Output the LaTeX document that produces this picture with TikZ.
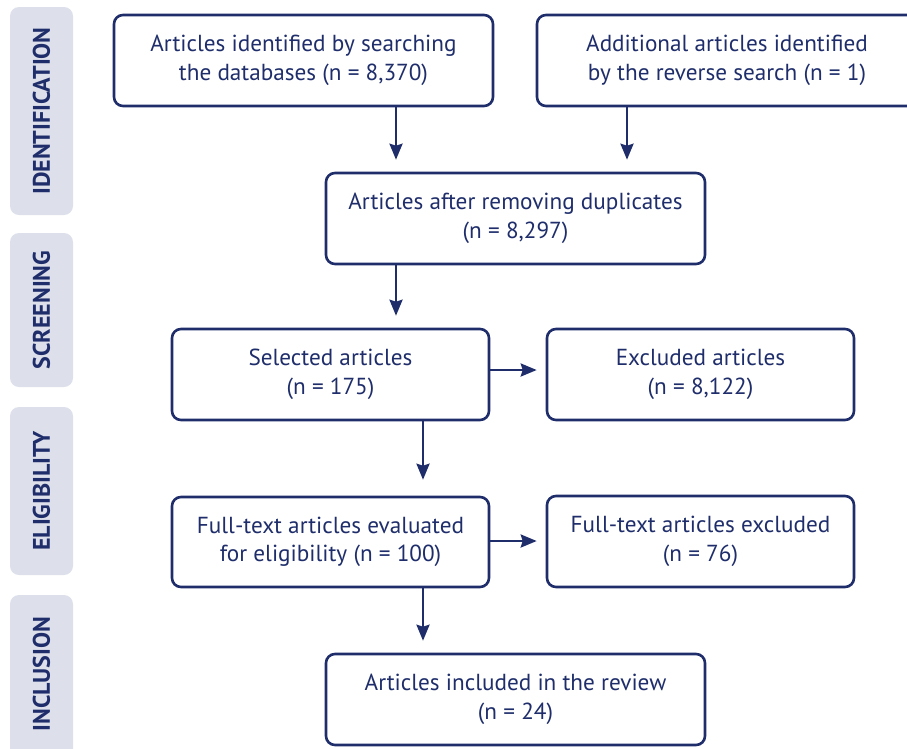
\documentclass[tikz,border=0pt]{standalone}
\usepackage{fontspec}
\setmainfont{PT Sans}
\usetikzlibrary{arrows.meta}
\definecolor{navy}{HTML}{1F2E6B}
\definecolor{sidefill}{HTML}{DDE0EA}
\begin{document}
\begin{tikzpicture}[x=1pt,y=-1pt,
  box/.style={draw=navy, line width=2.6pt, rounded corners=9pt, fill=white,
    text=navy, align=center, inner sep=0pt,
    font=\fontsize{23.2}{28.5}\selectfont},
  side/.style={fill=sidefill, rounded corners=9pt, text=navy, rotate=90,
    minimum height=63pt, inner sep=0pt,
    font=\fontsize{24}{26}\selectfont\bfseries},
  sidelabel/.style={text=navy, rotate=90, inner sep=0pt,
    font=\fontsize{24}{26}\selectfont\bfseries},
  arr/.style={draw=navy, line width=2.6pt,
    -{Stealth[inset=2pt,length=16pt,width=13pt]}, shorten >=12pt}]
\useasboundingbox (0,0) rectangle (907,748);
% sidebars
\node[side, minimum width=208pt] (s1) at (41.5,111) {IDENTIFICATION};
\node[side, minimum width=154pt] (s2) at (41.5,310) {SCREENING};
\node[side, minimum width=168pt] (s3) at (41.5,491) {ELIGIBILITY};
\node[side, minimum width=180pt] (s4) at (41.5,685) {};
\node[sidelabel] (s4t) at (41.5,674) {INCLUSION};
% boxes
\node[box, minimum width=379pt, minimum height=91pt] (b1) at (303.5,60.5)
  {Articles identified by searching\\the databases (n = 8,370)};
\node[box, minimum width=380pt, minimum height=91pt] (b2) at (727,60.5)
  {Additional articles identified\\by the reverse search (n = 1)};
\node[box, minimum width=379pt, minimum height=91pt] (b3) at (515.5,218.5)
  {Articles after removing duplicates\\(n = 8,297)};
\node[box, minimum width=317pt, minimum height=91pt] (sel) at (330.5,374.5)
  {Selected articles\\(n = 175)};
\node[box, minimum width=307pt, minimum height=91pt] (exc) at (700.5,374.5)
  {Excluded articles\\(n = 8,122)};
\node[box, minimum width=317pt, minimum height=90pt] (elig) at (330.5,542)
  {Full-text articles evaluated\\for eligibility (n = 100)};
\node[box, minimum width=307pt, minimum height=91pt] (ftx) at (700.5,541.5)
  {Full-text articles excluded\\(n = 76)};
\node[box, minimum width=379pt, minimum height=91pt] (inc) at (515.5,699.5)
  {Articles included in the review\\(n = 24)};
% column coordinates
\coordinate (c1) at (396,0);
\coordinate (c2) at (627,0);
\coordinate (c3) at (423,0);
\coordinate (r1) at (0,370);
\coordinate (r2) at (0,541);
% arrows
\draw[arr] (b1.south -| c1) -- (b3.north -| c1);
\draw[arr] (b2.south -| c2) -- (b3.north -| c2);
\draw[arr] (b3.south -| c1) -- (sel.north -| c1);
\draw[arr, shorten >=16pt] (sel.south -| c3) -- (elig.north -| c3);
\draw[arr] (elig.south -| c3) -- (inc.north -| c3);
\draw[arr, shorten >=9pt] (sel.east |- r1) -- (exc.west |- r1);
\draw[arr, shorten >=9pt] (elig.east |- r2) -- (ftx.west |- r2);
\end{tikzpicture}
\end{document}
